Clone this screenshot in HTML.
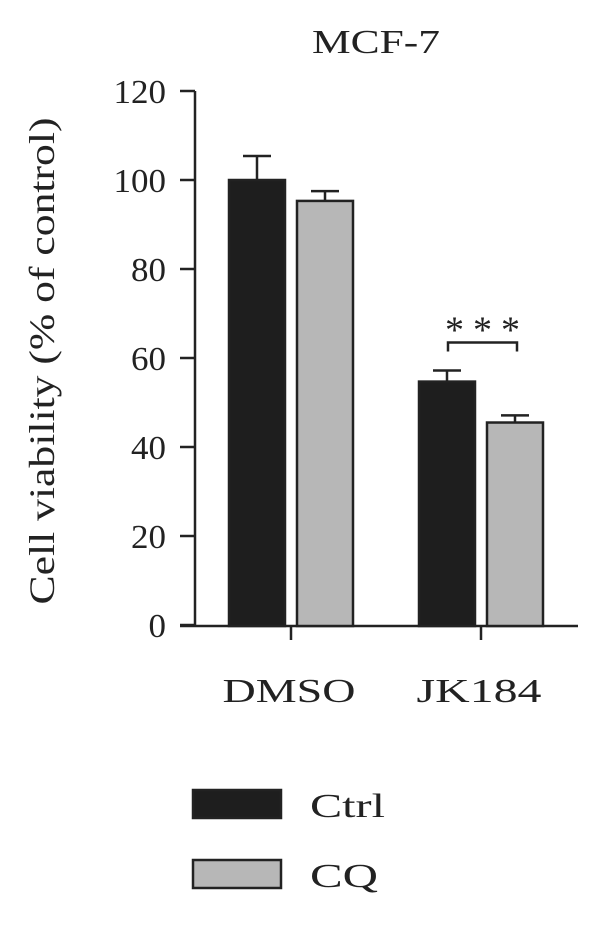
<!DOCTYPE html>
<html><head><meta charset="utf-8"><style>
body{margin:0;background:#fff}
svg text{font-family:"Liberation Serif",serif;fill:#222}
</style></head><body>
<svg width="600" height="920">
<script>
const categories=["DMSO","JK184"];
const ctrlValues=[100,54.7];
const ctrlErrors=[5.4,2.5];
const cqValues=[95.3,45.5];
const cqErrors=[2.2,1.6];
const yTicks=[0,20,40,60,80,100,120];
</script>
<g id="g"></g>
</svg>
<script>
const NS="http://www.w3.org/2000/svg";
const g=document.getElementById('g');
function y(v){return 625-v*(625-180)/100;}
function mk(t,a,p){const e=document.createElementNS(NS,t);for(const k in a)e.setAttribute(k,a[k]);(p||g).appendChild(e);return e;}
const groupX=[291,481];
const catLen=[133,125];
const title=mk('text',{x:376,y:53,'font-size':34,'text-anchor':'middle',textLength:128,lengthAdjust:'spacingAndGlyphs'});title.textContent='MCF-7';


const yl=mk('text',{x:0,y:0,'font-size':36,'text-anchor':'middle',textLength:487,lengthAdjust:'spacingAndGlyphs',transform:'translate(54,361) rotate(-90)'});yl.textContent='Cell viability (% of control)';


const ya=mk('line',{x1:195,y1:y(120),x2:195,y2:626,stroke:'#222','stroke-width':2.5});


yTicks.forEach(v=>{
 const tk=mk('line',{x1:180,x2:195,y1:y(v),y2:y(v),stroke:'#222','stroke-width':2.5});
 
 
 const s=String(v);
 const t=mk('text',{x:166,y:y(v)+12,'font-size':34,'text-anchor':'end',textLength:s.length*17.5,lengthAdjust:'spacingAndGlyphs'});t.textContent=s;
 
 
});
const xa=mk('line',{x1:180,x2:578,y1:626,y2:626,stroke:'#222','stroke-width':2.5});


categories.forEach((c,i)=>{
 const cx=groupX[i];
 const tk=mk('line',{x1:cx,x2:cx,y1:626,y2:640,stroke:'#222','stroke-width':2.5});
 
 
 const t=mk('text',{x:cx-2,y:702,'font-size':34,'text-anchor':'middle',textLength:catLen[i],lengthAdjust:'spacingAndGlyphs'});t.textContent=c;
 
 
 [[ctrlValues,ctrlErrors,'#1e1e1e',cx-62,'ctrl'],[cqValues,cqErrors,'#b7b7b7',cx+6,'cq']].forEach(([vals,errs,col,x0,nm])=>{
  const v=vals[i],e=errs[i],w=56,mx=x0+w/2;
  const el=mk('line',{x1:mx,x2:mx,y1:y(v),y2:y(v+e),stroke:'#222','stroke-width':2.5});
  
  
  const cp=mk('line',{x1:mx-14,x2:mx+14,y1:y(v+e),y2:y(v+e),stroke:'#222','stroke-width':2.5});
  
  
  const r=mk('rect',{x:x0,y:y(v),width:w,height:626-y(v),fill:col,stroke:'#222','stroke-width':2.5});
  
  
 });
});
const bx1=groupX[1]-33,bx2=groupX[1]+36,by=y(ctrlValues[1]+ctrlErrors[1])-28;
const br=mk('path',{d:`M${bx1},${by+9}V${by}H${bx2}V${by+9}`,fill:'none',stroke:'#222','stroke-width':2.5});


const st=mk('text',{x:(bx1+bx2)/2,y:by,'font-size':38,'text-anchor':'middle',textLength:75,lengthAdjust:'spacing'});st.textContent='***';


[['Ctrl','#1e1e1e',790,75],['CQ','#b7b7b7',860,68]].forEach(([n,c,yy,len])=>{
 const r=mk('rect',{x:193,y:yy,width:88,height:28,fill:c,stroke:'#222','stroke-width':2.5});
 
 
 const t=mk('text',{x:310,y:yy+27,'font-size':34,textLength:len,lengthAdjust:'spacingAndGlyphs'});t.textContent=n;
 
 
});
</script>
</body></html>
